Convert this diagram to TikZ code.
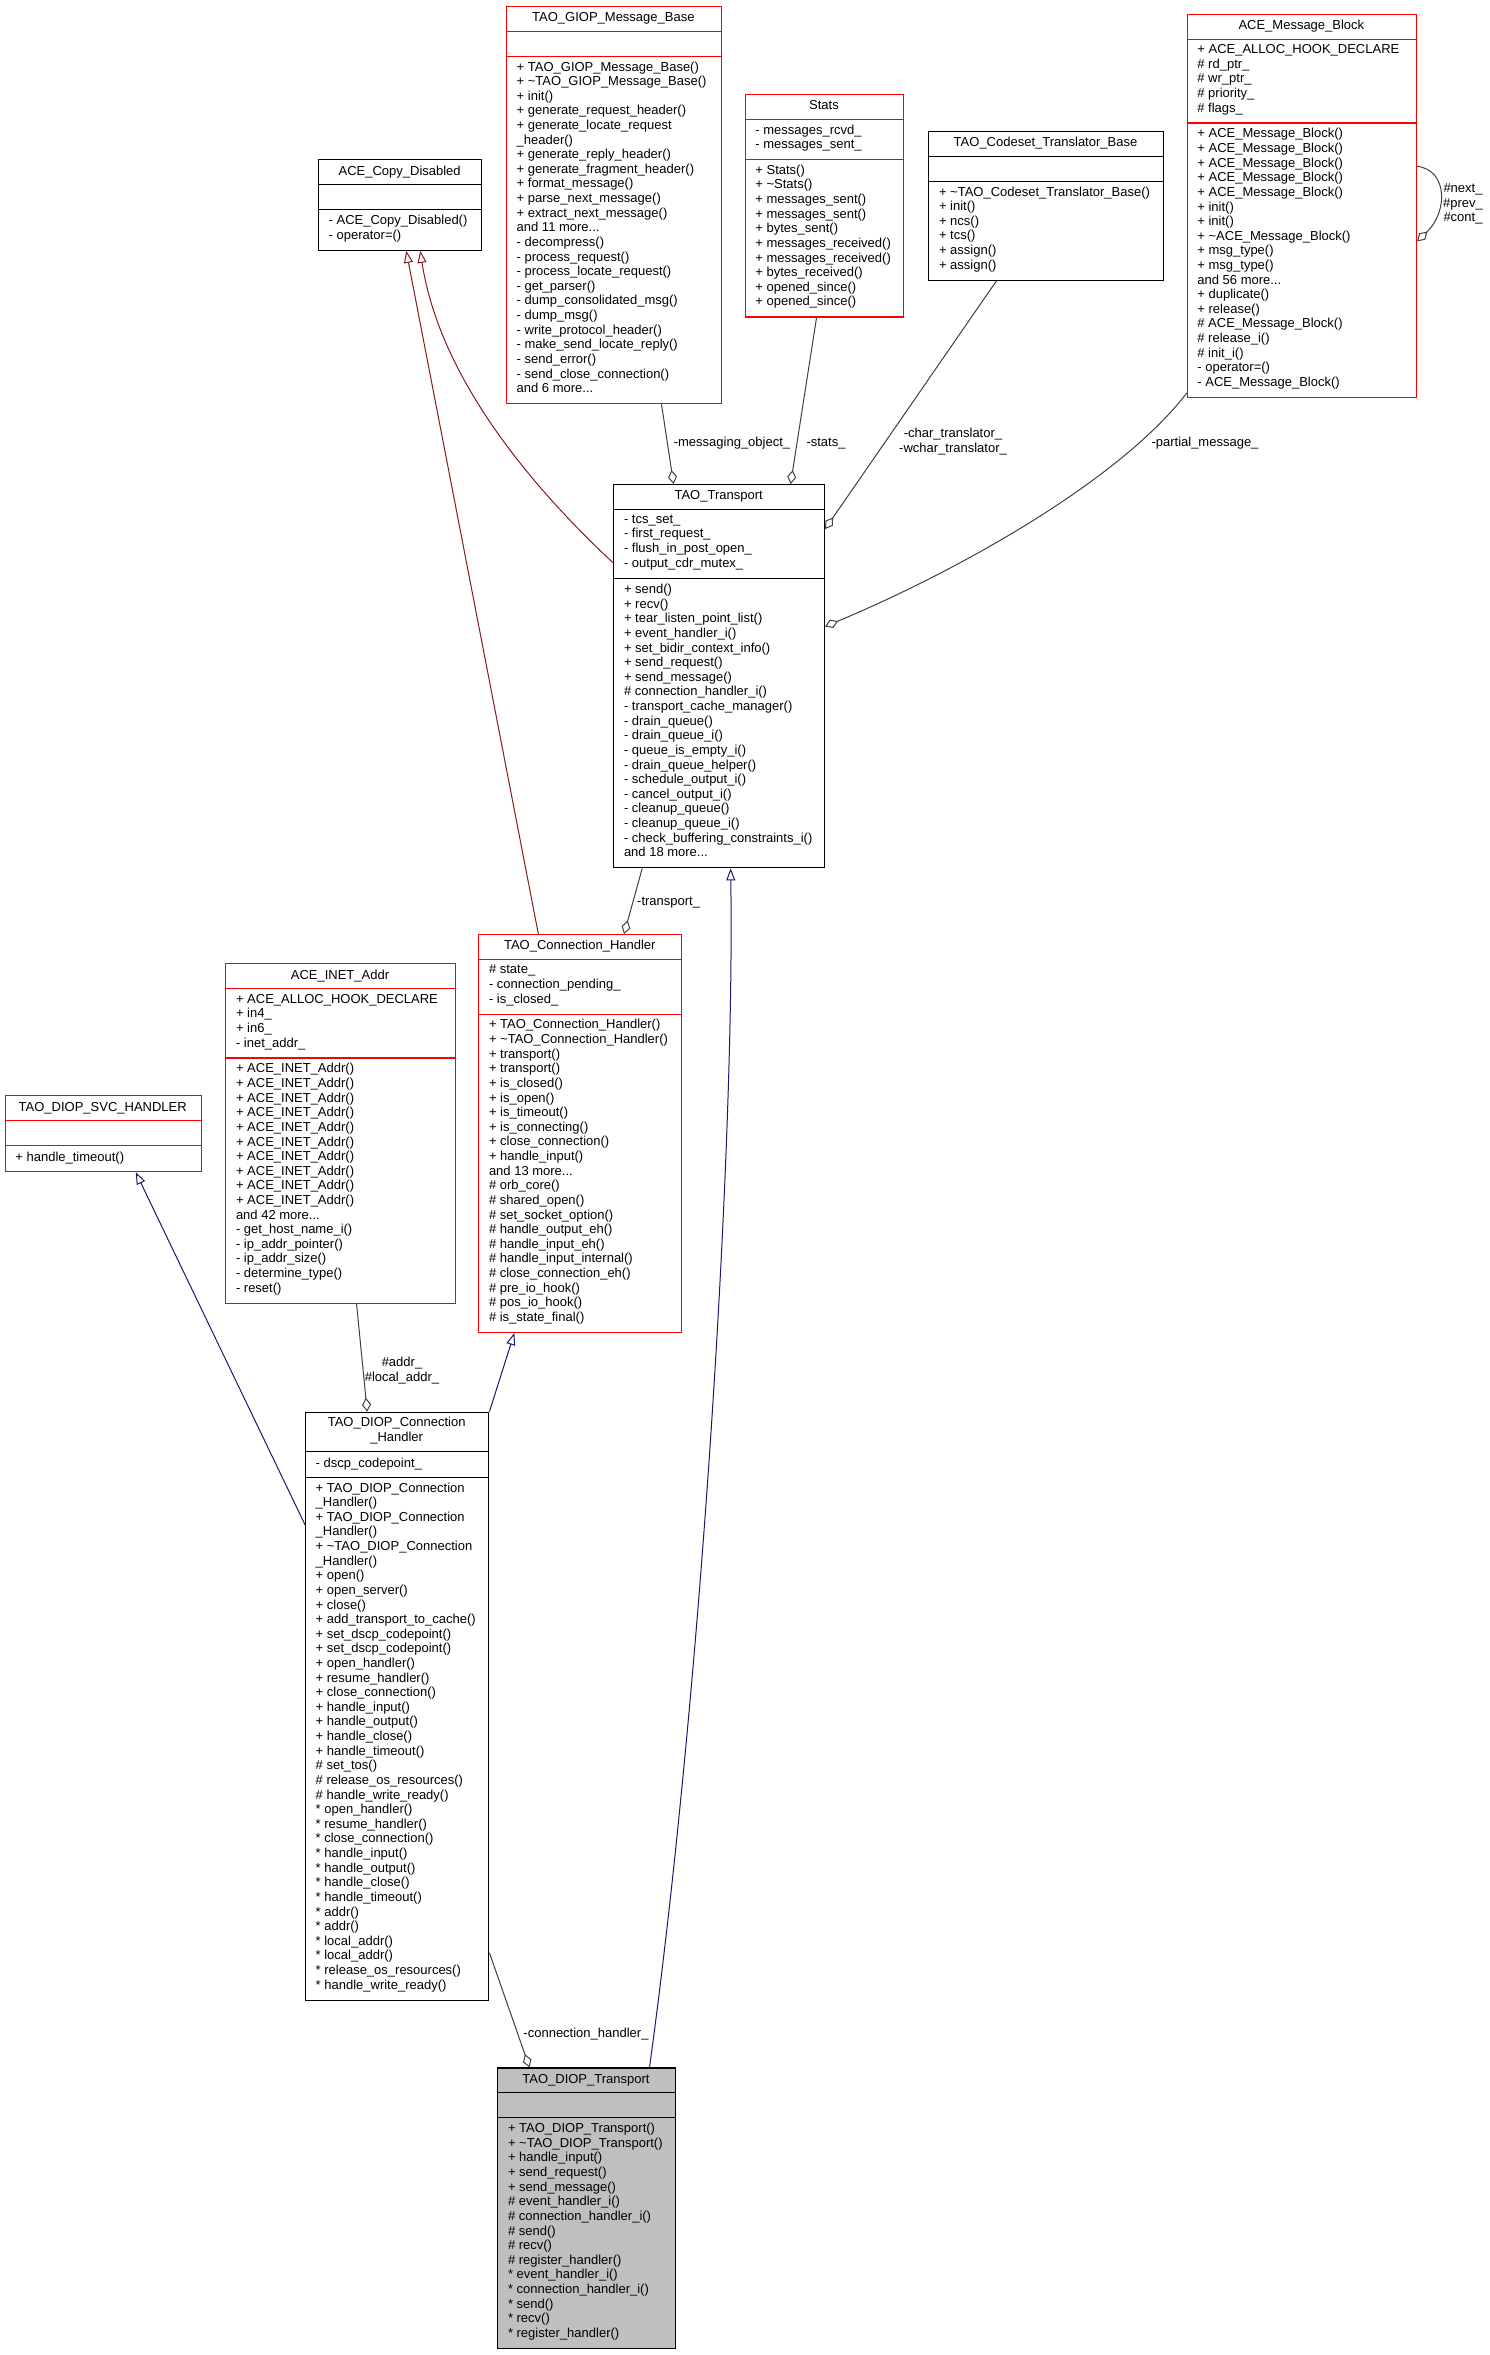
\documentclass[tikz,border=0pt]{standalone}
\usepackage{fontspec}
\setmainfont{Liberation Sans}
\usetikzlibrary{arrows.meta,calc}
\definecolor{edgegrey}{HTML}{404040}
\definecolor{navyblue}{HTML}{191970}
\definecolor{firebrick}{HTML}{8B1A1A}
\definecolor{boxred}{HTML}{FF0000}
\definecolor{greyfill}{HTML}{BFBFBF}
\tikzset{
  txt/.style={font=\fontsize{13}{14.62}\selectfont, inner sep=0pt, execute at begin node=\strut},
  cls/.style={line width=1.1pt, inner sep=0pt},
  usage/.style={draw=edgegrey, line width=1pt, -{Diamond[open,length=14pt,width=9pt]}},
  inhpub/.style={draw=navyblue, line width=1pt, -{Triangle[open,length=12pt,width=9pt]}},
  inhpriv/.style={draw=firebrick, line width=1pt, -{Triangle[open,length=12pt,width=9pt]}},
}
\def\boxfill{white}
% #1 name #2 x0 #3 y0 #4 width #5 colour #6 title lines #7 attr lines #8 method lines
\newcommand\classbox[8]{%
  \pgfmathsetmacro\hA{#6*14.62+10.8}%
  \pgfmathsetmacro\hB{ifthenelse(#7==0,25,#7*14.62+10.8)}%
  \pgfmathsetmacro\hC{ifthenelse(#8==0,25,#8*14.62+10.8)}%
  \pgfmathsetmacro\sA{#3+\hA}%
  \pgfmathsetmacro\sB{\sA+\hB}%
  \pgfmathsetmacro\yE{\sB+\hC}%
  \pgfmathsetmacro\xE{#2+#4}%
  \pgfmathsetmacro\xM{#2+#4/2}%
  \pgfmathsetmacro\hT{\yE-#3}%
  \node[cls, draw=#5, fill=\boxfill, minimum width=#4pt, minimum height=\hT pt, anchor=north west] (#1) at (#2,#3) {};
  \draw[cls, draw=#5] (#2,\sA) -- (\xE,\sA) (#2,\sB) -- (\xE,\sB);
  \node[txt, anchor=north, align=center] (#1-t) at (\xM,#3+5.27) {\cTitle};
  \node[txt, anchor=north west, align=left] (#1-a) at (#2+10.5,\sA+5.27) {\cAttr};
  \node[txt, anchor=north west, align=left] (#1-m) at (#2+10.5,\sB+5.27) {\cMeth};
}
\begin{document}
\begin{tikzpicture}[x=1pt,y=-1pt]
\fill[white] (0,0) rectangle (1489,2355);
\useasboundingbox (0,0) rectangle (1489,2355);

% TAO_GIOP_Message_Base
\def\cTitle{TAO\_GIOP\_Message\_Base}
\def\cAttr{}
\def\cMeth{+ TAO\_GIOP\_Message\_Base()\\+ \textasciitilde TAO\_GIOP\_Message\_Base()\\+ init()\\+ generate\_request\_header()\\+ generate\_locate\_request\\\_header()\\+ generate\_reply\_header()\\+ generate\_fragment\_header()\\+ format\_message()\\+ parse\_next\_message()\\+ extract\_next\_message()\\and 11 more...\\- decompress()\\- process\_request()\\- process\_locate\_request()\\- get\_parser()\\- dump\_consolidated\_msg()\\- dump\_msg()\\- write\_protocol\_header()\\- make\_send\_locate\_reply()\\- send\_error()\\- send\_close\_connection()\\and 6 more...}
\classbox{giop}{506}{5.7}{214.7}{boxred}{1}{0}{23}

% Stats
\def\cTitle{Stats}
\def\cAttr{- messages\_rcvd\_\\- messages\_sent\_}
\def\cMeth{+ Stats()\\+ \textasciitilde Stats()\\+ messages\_sent()\\+ messages\_sent()\\+ bytes\_sent()\\+ messages\_received()\\+ messages\_received()\\+ bytes\_received()\\+ opened\_since()\\+ opened\_since()}
\classbox{stats}{744.7}{94}{158.6}{boxred}{1}{2}{10}

% TAO_Codeset_Translator_Base
\def\cTitle{TAO\_Codeset\_Translator\_Base}
\def\cAttr{}
\def\cMeth{+ \textasciitilde TAO\_Codeset\_Translator\_Base()\\+ init()\\+ ncs()\\+ tcs()\\+ assign()\\+ assign()}
\classbox{codeset}{928.3}{130.7}{234.4}{black}{1}{0}{6}

% ACE_Message_Block
\def\cTitle{ACE\_Message\_Block}
\def\cAttr{+ ACE\_ALLOC\_HOOK\_DECLARE\\\# rd\_ptr\_\\\# wr\_ptr\_\\\# priority\_\\\# flags\_}
\def\cMeth{+ ACE\_Message\_Block()\\+ ACE\_Message\_Block()\\+ ACE\_Message\_Block()\\+ ACE\_Message\_Block()\\+ ACE\_Message\_Block()\\+ init()\\+ init()\\+ \textasciitilde ACE\_Message\_Block()\\+ msg\_type()\\+ msg\_type()\\and 56 more...\\+ duplicate()\\+ release()\\\# ACE\_Message\_Block()\\\# release\_i()\\\# init\_i()\\- operator=()\\- ACE\_Message\_Block()}
\classbox{msgblock}{1186.7}{13.7}{229.3}{boxred}{1}{5}{18}

% ACE_Copy_Disabled
\def\cTitle{ACE\_Copy\_Disabled}
\def\cAttr{}
\def\cMeth{- ACE\_Copy\_Disabled()\\- operator=()}
\classbox{copydis}{318}{159.3}{163.3}{black}{1}{0}{2}

% TAO_Transport
\def\cTitle{TAO\_Transport}
\def\cAttr{- tcs\_set\_\\- first\_request\_\\- flush\_in\_post\_open\_\\- output\_cdr\_mutex\_}
\def\cMeth{+ send()\\+ recv()\\+ tear\_listen\_point\_list()\\+ event\_handler\_i()\\+ set\_bidir\_context\_info()\\+ send\_request()\\+ send\_message()\\\# connection\_handler\_i()\\- transport\_cache\_manager()\\- drain\_queue()\\- drain\_queue\_i()\\- queue\_is\_empty\_i()\\- drain\_queue\_helper()\\- schedule\_output\_i()\\- cancel\_output\_i()\\- cleanup\_queue()\\- cleanup\_queue\_i()\\- check\_buffering\_constraints\_i()\\and 18 more...}
\classbox{transport}{613.3}{484}{210.7}{black}{1}{4}{19}

% TAO_Connection_Handler
\def\cTitle{TAO\_Connection\_Handler}
\def\cAttr{\# state\_\\- connection\_pending\_\\- is\_closed\_}
\def\cMeth{+ TAO\_Connection\_Handler()\\+ \textasciitilde TAO\_Connection\_Handler()\\+ transport()\\+ transport()\\+ is\_closed()\\+ is\_open()\\+ is\_timeout()\\+ is\_connecting()\\+ close\_connection()\\+ handle\_input()\\and 13 more...\\\# orb\_core()\\\# shared\_open()\\\# set\_socket\_option()\\\# handle\_output\_eh()\\\# handle\_input\_eh()\\\# handle\_input\_internal()\\\# close\_connection\_eh()\\\# pre\_io\_hook()\\\# pos\_io\_hook()\\\# is\_state\_final()}
\classbox{connh}{478.3}{934}{203}{boxred}{1}{3}{21}

% ACE_INET_Addr
\def\cTitle{ACE\_INET\_Addr}
\def\cAttr{+ ACE\_ALLOC\_HOOK\_DECLARE\\+ in4\_\\+ in6\_\\- inet\_addr\_}
\def\cMeth{+ ACE\_INET\_Addr()\\+ ACE\_INET\_Addr()\\+ ACE\_INET\_Addr()\\+ ACE\_INET\_Addr()\\+ ACE\_INET\_Addr()\\+ ACE\_INET\_Addr()\\+ ACE\_INET\_Addr()\\+ ACE\_INET\_Addr()\\+ ACE\_INET\_Addr()\\+ ACE\_INET\_Addr()\\and 42 more...\\- get\_host\_name\_i()\\- ip\_addr\_pointer()\\- ip\_addr\_size()\\- determine\_type()\\- reset()}
\classbox{inet}{225.3}{963.3}{229.4}{boxred}{1}{4}{16}

% TAO_DIOP_SVC_HANDLER
\def\cTitle{TAO\_DIOP\_SVC\_HANDLER}
\def\cAttr{}
\def\cMeth{+ handle\_timeout()}
\classbox{svc}{4.7}{1095.3}{196}{boxred}{1}{0}{1}

% TAO_DIOP_Connection_Handler
\def\cTitle{TAO\_DIOP\_Connection\\\_Handler}
\def\cAttr{- dscp\_codepoint\_}
\def\cMeth{+ TAO\_DIOP\_Connection\\\_Handler()\\+ TAO\_DIOP\_Connection\\\_Handler()\\+ \textasciitilde TAO\_DIOP\_Connection\\\_Handler()\\+ open()\\+ open\_server()\\+ close()\\+ add\_transport\_to\_cache()\\+ set\_dscp\_codepoint()\\+ set\_dscp\_codepoint()\\+ open\_handler()\\+ resume\_handler()\\+ close\_connection()\\+ handle\_input()\\+ handle\_output()\\+ handle\_close()\\+ handle\_timeout()\\\# set\_tos()\\\# release\_os\_resources()\\\# handle\_write\_ready()\\* open\_handler()\\* resume\_handler()\\* close\_connection()\\* handle\_input()\\* handle\_output()\\* handle\_close()\\* handle\_timeout()\\* addr()\\* addr()\\* local\_addr()\\* local\_addr()\\* release\_os\_resources()\\* handle\_write\_ready()}
\classbox{diopch}{305}{1411.7}{183.3}{black}{2}{1}{35}

% TAO_DIOP_Transport
\def\boxfill{greyfill}
\def\cTitle{TAO\_DIOP\_Transport}
\def\cAttr{}
\def\cMeth{+ TAO\_DIOP\_Transport()\\+ \textasciitilde TAO\_DIOP\_Transport()\\+ handle\_input()\\+ send\_request()\\+ send\_message()\\\# event\_handler\_i()\\\# connection\_handler\_i()\\\# send()\\\# recv()\\\# register\_handler()\\* event\_handler\_i()\\* connection\_handler\_i()\\* send()\\* recv()\\* register\_handler()}
\classbox{dioptr}{497.3}{2067.4}{177.3}{black}{1}{0}{15}

% ---------- connectors ----------
\draw[usage] ([xshift=47.6pt]giop.south) -- ([xshift=-45.6pt]transport.north);
\draw[usage] ([xshift=-8pt]stats.south) -- ([xshift=71.4pt]transport.north);
\draw[usage] ([xshift=-49.5pt]codeset.south) -- ([yshift=-45pt]transport.north east);
\draw[usage] ([yshift=5pt]msgblock.south west) .. controls (1120,480) and (960,570) .. ([yshift=-142.5pt]transport.north east);
\draw[usage] ([yshift=-152.6pt]msgblock.north east) .. controls (1448,170) and (1448,212) .. ([yshift=-227.6pt]msgblock.north east);
\draw[inhpriv] ([yshift=-79pt]transport.north west) .. controls (535,490) and (440,380) .. ([xshift=20pt]copydis.south);
\draw[inhpriv] ([xshift=-42pt]connh.north) -- ([xshift=6pt]copydis.south);
\draw[inhpub] ([xshift=63pt]dioptr.north) .. controls (700,1700) and (735,1150) .. ([xshift=11.4pt]transport.south);
\draw[usage] ([xshift=-77pt]transport.south) -- ([xshift=43.7pt]connh.north);
\draw[inhpub] (diopch.north east) -- ([xshift=-66pt]connh.south);
\draw[usage] ([xshift=16pt]inet.south) -- ([xshift=-30pt]diopch.north);
\draw[inhpub] ([yshift=-113pt]diopch.north west) -- ([xshift=32.5pt]svc.south);
\draw[usage] ([yshift=-541pt]diopch.north east) -- ([xshift=-57pt]dioptr.north);

% ---------- labels ----------
\node[txt, anchor=base] (lmsg) at (732,446) {-messaging\_object\_};
\node[txt, anchor=base] (lstats) at (826,446) {-stats\_};
\node[txt, anchor=north, align=center] (lchar) at (953,427.8) {-char\_translator\_\\-wchar\_translator\_};
\node[txt, anchor=base] (lpart) at (1205,446) {-partial\_message\_};
\node[txt, anchor=base] (ltrans) at (668.6,905.5) {-transport\_};
\node[txt, anchor=north, align=center] (laddr) at (402,1356.8) {\#addr\_\\\#local\_addr\_};
\node[txt, anchor=base] (lconn) at (586,2037) {-connection\_handler\_};
\node[txt, anchor=north, align=center] (lloop) at (1463,183.5) {\#next\_\\\#prev\_\\\#cont\_};
\end{tikzpicture}
\end{document}
